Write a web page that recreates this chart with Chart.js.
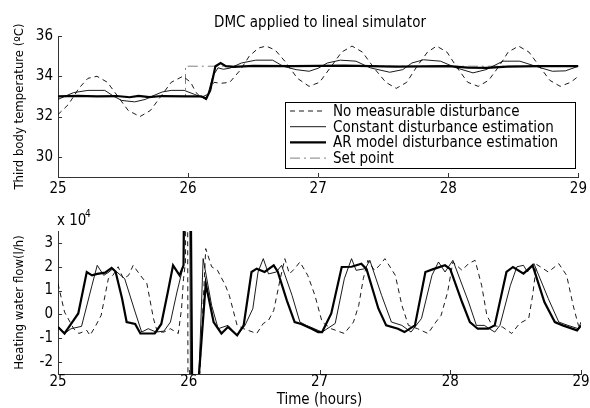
<!DOCTYPE html>
<html>
<head>
<meta charset="utf-8">
<script src="https://cdn.jsdelivr.net/npm/chart.js@4.4.0/dist/chart.umd.min.js"></script>
<style>
  html, body { margin: 0; padding: 0; background: #fff; }
  #wrap { position: relative; width: 590px; height: 408px; }
  .box { position: absolute; left: 0; width: 590px; }
</style>
</head>
<body>
<div id="wrap">
  <div class="box" style="top:0;height:200px"><canvas id="tempChart"></canvas></div>
  <div class="box" style="top:200px;height:208px"><canvas id="flowChart"></canvas></div>
</div>
<script>
// tick labels
const timeTicks = [25, 26, 27, 28, 29];
const tempTicks = [30, 32, 34, 36];
const flowTicks = [-2, -1, 0, 1, 2, 3];

const seriesLabels = ['No measurable disturbance', 'Constant disturbance estimation',
  'AR model disturbance estimation', 'Set point'];

// top plot: temperature (ºC) vs time (hours), [t, value]
const tempNoMeas = [[25.00,32.1],[25.08,32.6],[25.16,33.4],[25.23,33.9],[25.30,34.0],[25.38,33.7],
  [25.46,33.0],[25.54,32.3],[25.63,32.0],[25.71,32.3],[25.79,33.0],[25.87,33.7],[25.96,34.0],
  [26.02,33.7],[26.06,33.2],[26.10,32.95],[26.15,33.1],[26.20,33.7],[26.25,33.65],[26.32,33.7],
  [26.40,34.3],[26.47,35.0],[26.54,35.4],[26.60,35.5],[26.67,35.3],[26.75,34.7],[26.84,33.9],
  [26.93,33.5],[27.01,33.7],[27.09,34.4],[27.18,35.2],[27.26,35.5],[27.34,35.2],[27.43,34.4],
  [27.52,33.7],[27.60,33.4],[27.68,33.7],[27.76,34.5],[27.84,35.2],[27.91,35.5],[27.99,35.2],
  [28.07,34.4],[28.15,33.7],[28.23,33.5],[28.31,33.8],[28.39,34.5],[28.46,35.2],[28.54,35.5],
  [28.62,35.2],[28.70,34.5],[28.78,33.8],[28.86,33.5],[28.94,33.7],[29.00,34.0]];
const tempConst = [[25.00,32.85],[25.05,33.0],[25.12,33.19],[25.23,33.3],[25.36,33.3],[25.43,33.0],
  [25.49,32.8],[25.59,32.73],[25.67,32.85],[25.72,33.0],[25.80,33.22],[25.87,33.3],[25.97,33.3],
  [26.05,33.1],[26.11,32.95],[26.14,32.82],[26.19,34.0],[26.23,34.42],[26.27,34.35],[26.32,34.4],
  [26.41,34.66],[26.52,34.8],[26.65,34.8],[26.73,34.5],[26.83,34.33],[26.93,34.25],[27.00,34.4],
  [27.07,34.66],[27.17,34.8],[27.29,34.75],[27.40,34.42],[27.55,34.2],[27.65,34.33],[27.72,34.66],
  [27.81,34.82],[27.94,34.75],[28.06,34.42],[28.19,34.17],[28.29,34.33],[28.42,34.75],[28.55,34.75],
  [28.67,34.5],[28.80,34.25],[28.90,34.27],[29.00,34.5]];
const tempAR = [[25.00,33.0],[25.15,33.03],[25.30,33.0],[25.45,33.02],[25.55,32.96],[25.62,33.03],
  [25.70,32.97],[25.80,33.02],[26.00,33.0],[26.10,33.0],[26.14,32.9],[26.17,33.3],[26.21,34.5],
  [26.25,34.66],[26.29,34.5],[26.35,34.47],[26.50,34.52],[26.80,34.5],[27.20,34.53],[27.60,34.48],
  [28.00,34.5],[28.15,34.43],[28.30,34.42],[28.45,34.48],[28.70,34.5],[29.00,34.5]];
const tempSetPoint = [[25.00,33.0],[25.98,33.0],[25.98,34.5],[29.00,34.5]];

// bottom plot: heating water flow (x 10^4 l/h) vs time (hours)
const flowNoMeas = [[25.00,1.29],[25.05,0.10],[25.12,-0.60],[25.16,-0.80],[25.22,-0.67],[25.245,-0.88],
  [25.29,-0.46],[25.33,-0.04],[25.385,1.50],[25.42,1.64],[25.46,2.00],[25.50,1.50],[25.54,1.64],
  [25.575,2.06],[25.63,1.64],[25.68,1.29],[25.73,-0.17],[25.76,-0.74],[25.81,-0.74],[25.86,-0.60],
  [25.92,-0.80],[25.945,0.25],[25.96,1.50],[25.975,2.20],[25.98,9],[25.99,9],[25.995,-6],[26.06,-6],
  [26.08,-3],[26.13,2.76],[26.175,2.00],[26.22,1.85],[26.28,1.22],[26.31,0.80],[26.37,-0.46],
  [26.42,-0.60],[26.52,-0.80],[26.57,-0.38],[26.61,-0.25],[26.65,0.17],[26.70,1.50],[26.735,2.34],
  [26.77,1.70],[26.81,1.92],[26.85,2.20],[26.91,1.64],[26.965,0.80],[27.02,-0.32],[27.09,-0.60],
  [27.19,-0.80],[27.26,-0.32],[27.30,0.38],[27.335,1.50],[27.37,2.27],[27.42,1.85],[27.46,2.06],
  [27.50,2.34],[27.58,1.64],[27.63,0.38],[27.68,-0.46],[27.75,-0.60],[27.83,-0.80],[27.89,-0.32],
  [27.93,-0.04],[27.98,0.94],[28.02,2.20],[28.09,1.85],[28.14,2.13],[28.19,2.27],[28.24,1.22],
  [28.28,-0.04],[28.32,-0.46],[28.40,-0.53],[28.47,-0.80],[28.53,-0.38],[28.60,-0.17],[28.63,0.80],
  [28.66,2.10],[28.75,1.78],[28.83,2.13],[28.89,1.64],[28.94,0.38],[28.98,-0.46],[29.00,-0.60]];
const flowConst = [[25.00,-0.50],[25.05,-0.80],[25.10,-0.60],[25.18,-0.50],[25.26,1.22],[25.30,2.06],
  [25.35,1.64],[25.39,1.78],[25.42,1.92],[25.51,1.50],[25.59,0.10],[25.64,-0.74],[25.69,-0.60],
  [25.75,-0.74],[25.81,-0.70],[25.86,-0.32],[25.91,0.94],[25.96,2.06],[25.975,9],[26.005,9],
  [26.015,-6],[26.06,-6],[26.075,-3],[26.11,2.34],[26.175,0.38],[26.225,-0.60],[26.30,-0.46],
  [26.37,-0.88],[26.43,-0.46],[26.49,0.24],[26.53,1.78],[26.57,2.34],[26.61,1.70],[26.67,1.78],
  [26.71,2.06],[26.79,0.80],[26.85,-0.32],[26.90,-0.46],[26.99,-0.67],[27.02,-0.74],[27.12,-0.38],
  [27.19,1.50],[27.245,2.34],[27.28,1.85],[27.35,1.92],[27.385,2.27],[27.475,0.80],[27.55,-0.32],
  [27.63,-0.46],[27.70,-0.74],[27.78,-0.17],[27.86,1.64],[27.91,2.20],[27.96,1.78],[28.02,2.27],
  [28.14,0.52],[28.20,-0.46],[28.26,-0.46],[28.34,-0.74],[28.38,-0.46],[28.46,1.22],[28.51,2.00],
  [28.56,2.06],[28.59,1.78],[28.64,2.13],[28.75,0.66],[28.83,-0.32],[28.90,-0.46],[28.98,-0.60],
  [29.00,-0.32]];
const flowAR = [[25.00,-0.53],[25.05,-0.80],[25.10,-0.40],[25.155,0.04],[25.22,1.78],[25.26,1.64],
  [25.30,1.70],[25.36,1.75],[25.41,1.95],[25.44,1.80],[25.49,0.67],[25.525,-0.32],[25.59,-0.40],
  [25.63,-0.80],[25.74,-0.80],[25.79,-0.40],[25.84,0.94],[25.88,2.06],[25.93,1.64],[25.96,2.06],
  [25.97,9],[26.01,9],[26.03,-6],[26.06,-6],[26.065,-3.5],[26.13,1.30],[26.19,-0.32],[26.25,-0.80],
  [26.30,-0.53],[26.37,-0.88],[26.42,-0.46],[26.48,1.78],[26.52,1.92],[26.58,1.78],[26.65,2.06],
  [26.68,1.80],[26.75,0.59],[26.81,-0.32],[26.86,-0.40],[26.94,-0.60],[26.99,-0.74],[27.02,-0.74],
  [27.09,0.04],[27.17,1.99],[27.245,2.00],[27.32,2.13],[27.36,1.90],[27.45,0.25],[27.51,-0.46],
  [27.60,-0.60],[27.65,-0.74],[27.73,-0.46],[27.81,1.78],[27.87,1.90],[27.96,2.06],[28.00,1.90],
  [28.09,0.52],[28.15,-0.32],[28.21,-0.60],[28.29,-0.60],[28.34,-0.46],[28.43,1.78],[28.48,1.99],
  [28.56,1.71],[28.63,2.06],[28.72,0.52],[28.80,-0.32],[28.86,-0.46],[28.97,-0.67],[29.00,-0.46]];

const FAM = "'DejaVu Sans Condensed', 'DejaVu Sans', sans-serif";
Chart.defaults.font.family = FAM;
Chart.defaults.color = '#000';
const AXIS = '#333';

const toXY = arr => arr.map(p => ({ x: p[0], y: p[1] }));

// styles for each series (same order as labels)
const styles = [
  { borderColor: '#000', borderWidth: 0.9, borderDash: [5, 4] },
  { borderColor: '#000', borderWidth: 0.9 },
  { borderColor: '#000', borderWidth: 2.2 },
  { borderColor: '#808080', borderWidth: 1, borderDash: [10, 4, 2, 4] }
];

function makeSets(list) {
  return list.map((d, i) => Object.assign({
    label: seriesLabels[i],
    data: toXY(d),
    pointRadius: 0,
    tension: 0,
    fill: false
  }, styles[i]));
}

// MATLAB style ticks pointing into the axes
const innerTicks = {
  id: 'innerTicks',
  afterDraw(chart) {
    const { ctx, chartArea: a, scales: { x, y } } = chart;
    ctx.save();
    ctx.strokeStyle = AXIS;
    ctx.lineWidth = 1;
    ctx.beginPath();
    x.ticks.forEach(t => {
      const px = Math.round(x.getPixelForValue(t.value)) + 0.5;
      ctx.moveTo(px, a.bottom); ctx.lineTo(px, a.bottom - 4);
    });
    y.ticks.forEach(t => {
      const py = Math.round(y.getPixelForValue(t.value)) + 0.5;
      ctx.moveTo(a.left, py); ctx.lineTo(a.left + 4, py);
    });
    ctx.stroke();
    ctx.restore();
  }
};

const topText = {
  id: 'topText',
  afterDraw(chart) {
    const ctx = chart.ctx;
    ctx.save();
    ctx.fillStyle = '#000';
    ctx.font = '15px ' + FAM;
    ctx.textAlign = 'center';
    ctx.textBaseline = 'alphabetic';
    ctx.fillText('DMC applied to lineal simulator', 320, 27);

    // legend box
    ctx.fillStyle = '#fff';
    ctx.fillRect(285.5, 102.5, 290, 66);
    ctx.strokeStyle = '#000';
    ctx.lineWidth = 1;
    ctx.strokeRect(285.5, 102.5, 290, 66);
    chart.data.datasets.forEach((ds, i) => {
      const yy = 111 + i * 15.7;
      ctx.strokeStyle = ds.borderColor;
      ctx.lineWidth = ds.borderWidth;
      ctx.setLineDash(ds.borderDash || []);
      ctx.beginPath();
      ctx.moveTo(290, yy); ctx.lineTo(326, yy);
      ctx.stroke();
      ctx.setLineDash([]);
      ctx.fillStyle = '#000';
      ctx.textAlign = 'left';
      ctx.textBaseline = 'middle';
      ctx.font = '15px ' + FAM;
      ctx.fillText(ds.label, 333, yy + 1);
    });
    ctx.restore();
  }
};

const expText = {
  id: 'expText',
  afterDraw(chart) {
    const ctx = chart.ctx;
    ctx.save();
    ctx.fillStyle = '#000';
    ctx.textAlign = 'left';
    ctx.textBaseline = 'alphabetic';
    ctx.font = '15px ' + FAM;
    ctx.fillText('x 10', 57, 25);
    ctx.font = '10px ' + FAM;
    ctx.fillText('4', 85, 17);
    ctx.restore();
  }
};

function axes(yMin, yMax, yTicks, yTitle, xHeight, xTickPad, xTitle) {
  return {
    x: {
      type: 'linear', min: 25, max: 29,
      afterBuildTicks: s => { s.ticks = timeTicks.map(v => ({ value: v })); },
      afterFit: s => { s.height = xHeight; },
      grid: { display: false, drawTicks: false },
      border: { display: true, color: AXIS, width: 1 },
      ticks: { font: { size: 15 }, padding: xTickPad, maxRotation: 0 },
      title: xTitle
        ? { display: true, text: xTitle, font: { size: 15, lineHeight: 1 }, padding: { top: 0, bottom: 0 } }
        : { display: false }
    },
    y: {
      min: yMin, max: yMax,
      afterBuildTicks: s => { s.ticks = yTicks.map(v => ({ value: v })); },
      afterFit: s => { s.width = 58; },
      grid: { display: false, drawTicks: false },
      border: { display: true, color: AXIS, width: 1 },
      ticks: { font: { size: 15 }, padding: 5 },
      title: { display: true, text: yTitle, font: { size: 13 }, padding: { top: 12, bottom: 0 } }
    }
  };
}

const commonOpts = {
  responsive: true,
  maintainAspectRatio: false,
  animation: false,
  plugins: { legend: { display: false }, tooltip: { enabled: false } }
};

new Chart(document.getElementById('tempChart'), {
  type: 'line',
  data: { datasets: makeSets([tempNoMeas, tempConst, tempAR, tempSetPoint]) },
  options: Object.assign({}, commonOpts, {
    layout: { padding: { top: 36, right: 9, left: 0, bottom: 0 } },
    scales: axes(29, 36, tempTicks, 'Third body temperature (ºC)', 23, 3, null)
  }),
  plugins: [innerTicks, topText]
});

new Chart(document.getElementById('flowChart'), {
  type: 'line',
  data: { datasets: makeSets([flowNoMeas, flowConst, flowAR]) },
  options: Object.assign({}, commonOpts, {
    layout: { padding: { top: 31, right: 9, left: 0, bottom: 0 } },
    scales: axes(-2.5, 3.5, flowTicks, 'Heating water flow(l/h)', 34, -1, 'Time (hours)')
  }),
  plugins: [innerTicks, expText]
});
</script>
</body>
</html>
